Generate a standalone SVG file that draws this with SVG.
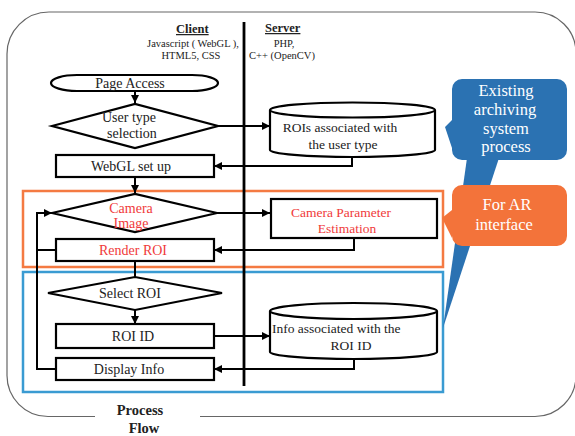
<svg xmlns="http://www.w3.org/2000/svg" width="575" height="436" viewBox="0 0 575 436">
<defs>
<marker id="ah" viewBox="0 0 10 10" refX="10" refY="5" markerWidth="4" markerHeight="4" orient="auto" markerUnits="strokeWidth">
<path d="M0,0 L10,5 L0,10 z" fill="#000"/>
</marker>
<style>
.t{font-family:"Liberation Serif","Times New Roman",serif;font-size:14px;fill:#222;text-anchor:middle}
.s{font-size:13.5px}
.h{font-family:"Liberation Serif","Times New Roman",serif;font-size:10.5px;fill:#222;text-anchor:middle}
.hb{font-family:"Liberation Serif","Times New Roman",serif;font-size:12.5px;font-weight:bold;fill:#222;text-decoration:underline}
.red{fill:#F03A3A}
.w{font-family:"Liberation Serif","Times New Roman",serif;font-size:16.5px;fill:#fff;text-anchor:middle}
.shape{fill:#fff;stroke:#000;stroke-width:2.2}
.c{fill:none;stroke:#000;stroke-width:2}
.ca{fill:none;stroke:#000;stroke-width:2;marker-end:url(#ah)}
</style>
</defs>
<rect width="575" height="436" fill="#fff"/>
<!-- outer frame -->
<path d="M200,416.5 H535 A41,41 0 0 0 576,375.5 V53 A41,41 0 0 0 535,12 H49 A42,42 0 0 0 7,54 V375 A41,41 0 0 0 48,416.5 H95" fill="none" stroke="#666" stroke-width="1.2"/>
<g id="title"><text class="t" x="140" y="415" style="font-weight:bold;font-size:14.5px">Process</text><text class="t" x="144" y="433" style="font-weight:bold;font-size:14.5px">Flow</text></g>
<!-- highlight boxes -->
<rect id="ar-box" x="23" y="191" width="420" height="76" fill="none" stroke="#F47A42" stroke-width="2.5"/>
<rect id="arch-box" x="23" y="272" width="420" height="120" fill="none" stroke="#3A9BD2" stroke-width="2.5"/>
<!-- header -->
<g id="header">
<text class="hb" x="176" y="33">Client </text>
<text class="h" x="193" y="47">Javascript ( WebGL ),</text>
<text class="h" x="191" y="59">HTML5, CSS</text>
<text class="hb" x="265" y="32">Server </text>
<text class="h" x="284" y="47">PHP,</text>
<text class="h" x="282" y="59">C++ (OpenCV)</text>
</g>
<line id="divider" x1="244" y1="22" x2="244" y2="386" stroke="#000" stroke-width="2.8"/>
<!-- connectors -->
<g id="connectors">
<line class="ca" x1="135" y1="91" x2="135" y2="103"/>
<line class="ca" x1="218" y1="126" x2="270" y2="126"/>
<polyline class="ca" points="352,157 352,166 214,166"/>
<line class="ca" x1="135" y1="177" x2="135" y2="193"/>
<line class="ca" x1="217" y1="213" x2="270" y2="213"/>
<polyline class="ca" points="354,238 354,250 214,250"/>
<polyline class="c" points="56,250 37,250"/>
<polyline class="ca" points="56,369 37,369 37,213 52,213"/>
<line class="c" x1="135" y1="261" x2="135" y2="277"/>
<line class="ca" x1="135" y1="310" x2="135" y2="324"/>
<line class="ca" x1="214" y1="336" x2="270" y2="336"/>
<polyline class="ca" points="354,359 354,369 214,369"/>
</g>
<!-- nodes -->
<g id="page-access"><rect class="shape" x="51" y="75" width="167" height="16" rx="26" ry="8"/><text class="t" x="130" y="88">Page Access</text></g>
<g id="user-type"><polygon class="shape" points="52,126 135,104 218,126 135,148"/><text class="t" x="129" y="122">User type</text><text class="t" x="132" y="138">selection</text></g>
<g id="rois-db"><path class="shape" d="M270,110 V150 A82.5,7 0 0 0 435,150 V110 A82.5,7.5 0 0 0 270,110 A82.5,7.5 0 0 0 435,110"/><text class="t s" x="340" y="132">ROIs associated with</text><text class="t s" x="343" y="149">the user type</text></g>
<g id="webgl"><rect class="shape" x="56" y="155" width="158" height="22"/><text class="t" x="131" y="171">WebGL   set up</text></g>
<g id="camera-image"><polygon class="shape" points="52,213 135,194 217,213 135,232"/><text class="t red" x="131" y="213">Camera</text><text class="t red" x="131" y="228">Image</text></g>
<g id="cam-param"><rect class="shape" x="271" y="199" width="166" height="39"/><text class="t s red" x="341" y="217">Camera Parameter</text><text class="t s red" x="347" y="233">Estimation</text></g>
<g id="render-roi"><rect class="shape" x="56" y="239" width="158" height="22"/><text class="t red" x="133" y="255">Render ROI</text></g>
<g id="select-roi"><polygon class="shape" points="48,293 135,277 222,293 135,310"/><text class="t" x="130" y="298">Select ROI</text></g>
<g id="roi-id"><rect class="shape" x="56" y="324" width="158" height="24"/><text class="t" x="133" y="341">ROI ID</text></g>
<g id="info-db"><path class="shape" d="M270,311 V352 A83.5,7 0 0 0 437,352 V311 A83.5,8 0 0 0 270,311 A83.5,8 0 0 0 437,311"/><text class="t s" x="272" y="333" style="text-anchor:start">Info associated with the</text><text class="t s" x="351" y="350">ROI ID</text></g>
<g id="display-info"><rect class="shape" x="56" y="358" width="158" height="22"/><text class="t" x="129" y="374">Display Info</text></g>
<!-- callouts -->
<g id="callout-existing">
<polygon points="467,158 443,328 499,158" fill="#2B72B2"/>
<path d="M462,79 H557 A10,10 0 0 1 567,89 V150 A10,10 0 0 1 557,160 H462 A10,10 0 0 1 452,150 V148 L445,127 L452,120 V89 A10,10 0 0 1 462,79 Z" fill="#2B72B2"/>
<text class="w" x="506" y="96">Existing</text><text class="w" x="505" y="115">archiving</text><text class="w" x="506" y="134">system</text><text class="w" x="506" y="152">process</text>
</g>
<g id="callout-ar">
<path d="M462,185 H557 A10,10 0 0 1 567,195 V236 A10,10 0 0 1 557,246 H462 A10,10 0 0 1 452,236 V238 L442,218 L452,210 V195 A10,10 0 0 1 462,185 Z" fill="#F3733A"/>
<text class="w" x="507" y="210">For AR</text><text class="w" x="504" y="230">interface</text>
</g>
</svg>
